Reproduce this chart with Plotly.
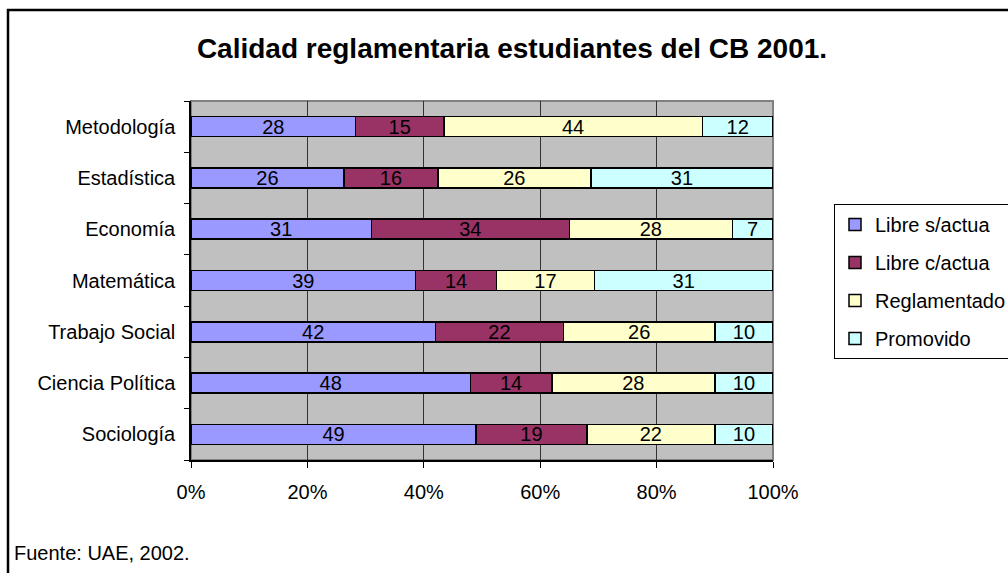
import plotly.graph_objects as go

# datos
carreras = ["Metodología", "Estadística", "Economía", "Matemática",
            "Trabajo Social", "Ciencia Política", "Sociología"]
libre_s = [28, 26, 31, 39, 42, 48, 49]
libre_c = [15, 16, 34, 14, 22, 14, 19]
reglamentado = [44, 26, 28, 17, 26, 28, 22]
promovido = [12, 31, 7, 31, 10, 10, 10]
x_ticks = [0, 20, 40, 60, 80, 100]

series = [
    ("Libre s/actua", libre_s, "#9999FF"),
    ("Libre c/actua", libre_c, "#993366"),
    ("Reglamentado", reglamentado, "#FFFFCC"),
    ("Promovido", promovido, "#CCFFFF"),
]

FONT = "Liberation Sans, Arial, sans-serif"

fig = go.Figure()
for i, (nombre, vals, color) in enumerate(series):
    fig.add_trace(go.Bar(
        y=carreras,
        x=vals,
        name=nombre,
        orientation="h",
        legendgroup=f"g{i}",
        marker=dict(color=color, line=dict(color="black", width=1.5)),
        text=vals,
        texttemplate="%{text}",
        textposition="inside",
        insidetextanchor="middle",
        textangle=0,
        textfont=dict(family=FONT, size=20, color="black"),
    ))

# márgenes -> área de trazado en px: x 191..773, y 101..460
L, R, T, B = 191, 235, 101, 113
W, H = 1008, 573
pw, ph = W - L - R, H - T - B


def px(x):
    return (x - L) / pw


def py(y):
    return (H - B - y) / ph


fig.update_layout(
    width=W, height=H,
    margin=dict(l=L, r=R, t=T, b=B),
    barmode="stack",
    barnorm="percent",
    bargap=0.61,
    paper_bgcolor="white",
    plot_bgcolor="#C0C0C0",
    font=dict(family=FONT, size=20, color="black"),
    uniformtext=dict(minsize=20, mode="show"),
    title=dict(
        text="<b>Calidad reglamentaria estudiantes del CB 2001.</b>",
        x=512 / W, xref="container", xanchor="center",
        y=1 - 48 / H, yref="container", yanchor="middle",
        font=dict(family=FONT, size=28, color="black"),
    ),
    xaxis=dict(
        range=[0, 100],
        tickvals=x_ticks,
        ticktext=[f"{v}%" for v in x_ticks],
        showgrid=True, gridcolor="#333333", gridwidth=1,
        zeroline=False,
        showline=True, linecolor="black", linewidth=1.5,
        ticks="outside", ticklen=6, tickcolor="black",
        ticklabelstandoff=7,
        tickfont=dict(family=FONT, size=20),
        fixedrange=True,
    ),
    yaxis=dict(
        categoryorder="array",
        categoryarray=carreras[::-1],
        showgrid=False,
        showline=True, linecolor="black", linewidth=1.5,
        ticks="outside", ticklen=5, tickcolor="black",
        tickson="boundaries",
        ticklabelstandoff=10,
        tickfont=dict(family=FONT, size=20),
        fixedrange=True,
    ),
    legend=dict(
        xref="container", yref="container",
        x=834 / W, y=1 - 204 / H, xanchor="left", yanchor="top",
        traceorder="grouped", tracegroupgap=9,
        bgcolor="white", bordercolor="black", borderwidth=1,
        font=dict(family=FONT, size=20),
    ),
    showlegend=True,
)

# borde gris del área de trazado
fig.add_shape(type="rect", xref="paper", yref="paper",
              x0=0, x1=1, y0=0, y1=1,
              line=dict(color="#808080", width=2), layer="between")

# marco exterior del gráfico
fig.add_shape(type="rect", xref="paper", yref="paper",
              x0=px(8), x1=px(1030), y0=py(600), y1=py(10),
              line=dict(color="black", width=2.5), layer="below")

fig.add_annotation(
    text="Fuente: UAE, 2002.",
    xref="paper", yref="paper",
    x=px(12), y=py(553), xanchor="left", yanchor="middle",
    showarrow=False,
    font=dict(family=FONT, size=20, color="black"),
)

fig.write_html(
    "out.html",
    config={"displayModeBar": False},
    post_script="document.body.style.margin='0';document.body.style.overflow='hidden';",
)
